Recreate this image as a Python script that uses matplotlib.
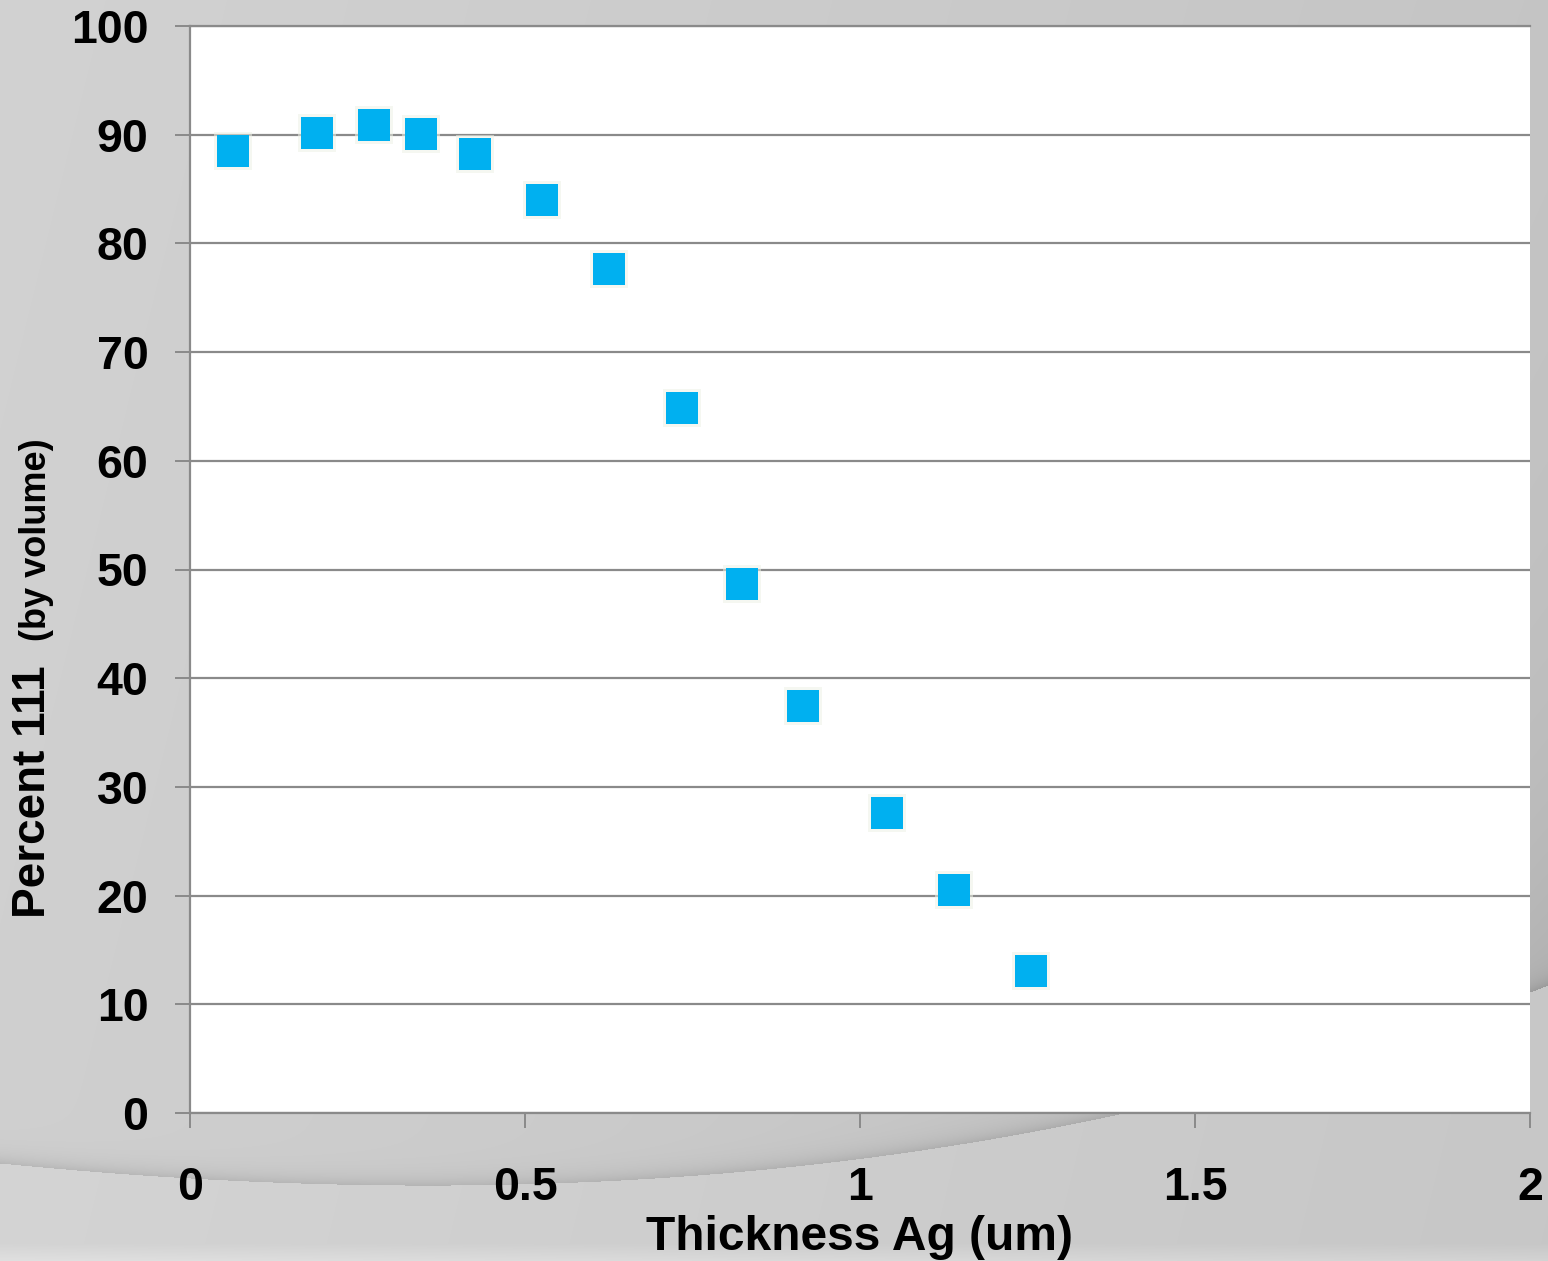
import numpy as np
import matplotlib
matplotlib.use("Agg")
import matplotlib.pyplot as plt

plt.rcParams['font.family'] = ['Liberation Sans', 'DejaVu Sans']

# Silver film thickness (um) and share of (111) texture (% by volume)
thickness_um = [0.064, 0.190, 0.275, 0.345, 0.425, 0.525, 0.625, 0.734, 0.824, 0.915, 1.040, 1.140, 1.255]
percent_111 = [88.5, 90.2, 90.9, 90.1, 88.2, 84.0, 77.6, 64.9, 48.7, 37.4, 27.6, 20.5, 13.1]

x_ticks = [0, 0.5, 1, 1.5, 2]
x_tick_labels = ['0', '0.5', '1', '1.5', '2']
y_ticks = list(range(0, 101, 10))

W, H = 1548, 1261
fig = plt.figure(figsize=(W / 100, H / 100), dpi=100)

# Slide-style backdrop: soft gray gradient with a curved shadowed sweep
bg = fig.add_axes([0, 0, 1, 1])
yy, xx = np.mgrid[0:H, 0:W].astype(float)
cx = np.array([0, 450, 1100, 1548], float)
cy = np.array([1163, 1185, 1118, 985], float)
coef = np.polyfit(cx, cy, 3)
curve = np.polyval(coef, xx)
shade = 0.835 - 0.05 * (xx / W) - 0.01 * (yy / H)
above = yy < curve
d = curve - yy
shade = np.where(above, shade - 0.012 - 0.07 * (xx / W) ** 4 * np.exp(-np.clip(d, 0, None) / 250.0), shade + 0.005)
shade -= np.where(above, 0.09 * np.exp(-np.clip(d, 0, None) / 9.0), 0.0)
shade += np.where(yy > H - 18, 0.05 * (yy - (H - 18)) / 18.0, 0.0)
shade = np.clip(shade, 0, 1)
bg.imshow(np.dstack([shade] * 3), extent=[0, W, H, 0], aspect='auto', interpolation='bilinear')
bg.set_axis_off()

ax = fig.add_axes([190 / W, 1 - 1113 / H, (1530 - 190) / W, (1113 - 26) / H])
ax.set_facecolor('white')
ax.set_xlim(0, 2)
ax.set_ylim(0, 100)
ax.set_xticks(x_ticks)
ax.set_xticklabels(x_tick_labels)
ax.set_yticks(y_ticks)

grid_color = '#8a8a8a'
ax.grid(axis='y', color=grid_color, linewidth=1.6)
ax.set_axisbelow(True)
for side in ['top', 'right']:
    ax.spines[side].set_visible(False)
for side in ['left', 'bottom']:
    ax.spines[side].set_color(grid_color)
    ax.spines[side].set_linewidth(1.6)
ax.axhline(100, color=grid_color, linewidth=1.6, clip_on=False)

ax.tick_params(axis='both', direction='out', length=11, width=1.4, color=grid_color,
               labelsize=33.5, labelcolor='black')
ax.tick_params(axis='x', pad=27)
ax.tick_params(axis='y', pad=19)
for lbl in ax.get_xticklabels() + ax.get_yticklabels():
    lbl.set_fontweight('bold')

# soft glow under the markers, then the markers
ax.plot(thickness_um, percent_111, linestyle='none', marker='s', markersize=27,
        color='#eef2e6', markeredgewidth=0, alpha=0.55, zorder=3)
ax.plot(thickness_um, percent_111, linestyle='none', marker='s', markersize=22.8,
        color='#00b0f0', markeredgewidth=0, zorder=4)

ax.set_xlabel('Thickness Ag (um)', fontsize=34.5, fontweight='bold', labelpad=4)

fig.text(33 / W, 1 - 792 / H, 'Percent 111', rotation=90, fontsize=33, fontweight='bold',
         ha='center', va='center')
fig.text(37 / W, 1 - 540 / H, '(by volume)', rotation=90, fontsize=26, fontweight='bold',
         ha='center', va='center')

fig.savefig('out.png', dpi=100)
